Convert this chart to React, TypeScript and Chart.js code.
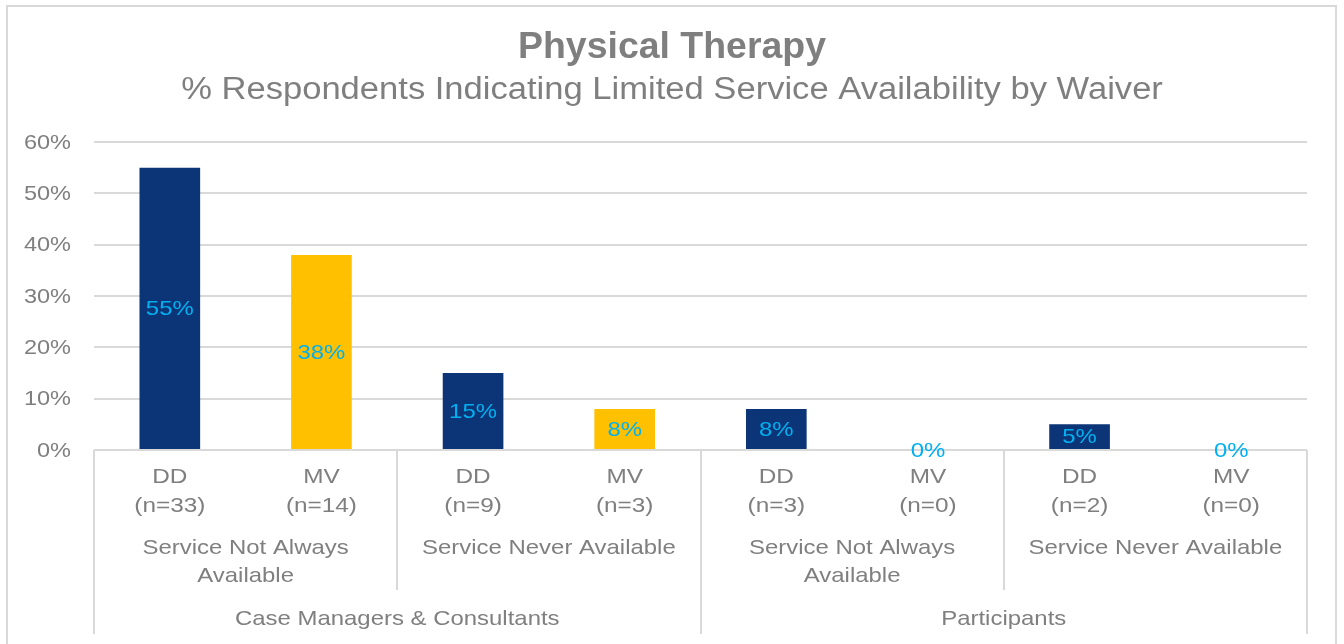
import React, { useEffect, useRef } from 'react';
import { Chart, registerables } from 'chart.js';

Chart.register(...registerables);

const waiverLabels = ['DD', 'MV', 'DD', 'MV', 'DD', 'MV', 'DD', 'MV'];
const sampleLabels = ['(n=33)', '(n=14)', '(n=9)', '(n=3)', '(n=3)', '(n=0)', '(n=2)', '(n=0)'];
const availabilityGroups = [
  ['Service Not Always', 'Available'],
  ['Service Never Available'],
  ['Service Not Always', 'Available'],
  ['Service Never Available'],
];
const respondentGroups = ['Case Managers & Consultants', 'Participants'];
const values = [55, 38, 15, 8, 8, 0, 5, 0];
const yTicks = [0, 10, 20, 30, 40, 50, 60];
const waiverColors: Record<string, string> = { DD: '#0B3577', MV: '#FFC000' };
const titleText = 'Physical Therapy';
const subtitleText = '% Respondents Indicating Limited Service Availability by Waiver';

const FONT = "'Liberation Sans', Arial, sans-serif";
const GREY = '#7F7F7F';
const LINE = '#D9D9D9';

function drawText(ctx: any, text: string, x: number, y: number, font: string, sx: number, align: string, color: string) {
  ctx.save();
  ctx.font = font;
  ctx.fillStyle = color;
  ctx.textAlign = align;
  ctx.textBaseline = 'middle';
  ctx.translate(x, y);
  ctx.scale(sx, 1);
  ctx.fillText(text, 0, 0);
  ctx.restore();
}

const titlePlugin = {
  id: 'titles',
  afterDraw(chart: any) {
    const ctx = chart.ctx;
    const cx = chart.width / 2;
    drawText(ctx, titleText, cx, 48, `bold 36px ${FONT}`, 1.04, 'center', GREY);
    drawText(ctx, subtitleText, cx, 90, `31px ${FONT}`, 1.115, 'center', GREY);
  },
};

const axisPlugin = {
  id: 'multiAxis',
  afterDraw(chart: any) {
    const ctx = chart.ctx;
    const x = chart.scales.x;
    const y = chart.scales.y;
    const area = chart.chartArea;
    const n = waiverLabels.length;
    const catW = (area.right - area.left) / n;
    const base = area.bottom;
    ctx.save();
    ctx.strokeStyle = LINE;
    ctx.lineWidth = 2;
    for (let k = 0; k <= n; k += 2) {
      const px = Math.round(area.left + k * catW);
      const long = k % 4 === 0;
      ctx.beginPath();
      ctx.moveTo(px, base);
      ctx.lineTo(px, long ? base + 184 : base + 140);
      ctx.stroke();
    }
    ctx.restore();
    const f = `21px ${FONT}`;
    yTicks.forEach((v) => {
      drawText(ctx, `${v}%`, 71, y.getPixelForValue(v) + 1, f, 1.12, 'right', GREY);
    });
    for (let i = 0; i < n; i++) {
      const px = x.getPixelForValue(i);
      drawText(ctx, waiverLabels[i], px, base + 27, f, 1.16, 'center', GREY);
      drawText(ctx, sampleLabels[i], px, base + 56, f, 1.16, 'center', GREY);
    }
    availabilityGroups.forEach((lines, g) => {
      const px = area.left + (2 * g + 1) * catW;
      lines.forEach((t, j) => drawText(ctx, t, px, base + 98 + j * 28, f, 1.14, 'center', GREY));
    });
    respondentGroups.forEach((t, g) => {
      const px = area.left + (4 * g + 2) * catW;
      drawText(ctx, t, px, base + 169, f, 1.14, 'center', GREY);
    });
  },
  afterDatasetsDraw(chart: any) {
    const ctx = chart.ctx;
    const meta = chart.getDatasetMeta(0);
    meta.data.forEach((bar: any, i: number) => {
      const cy = (bar.y + bar.base) / 2 + 1;
      drawText(ctx, `${values[i]}%`, bar.x, cy, `21px ${FONT}`, 1.14, 'center', '#00B0F0');
    });
  },
};

export default function App() {
  const ref = useRef<HTMLCanvasElement | null>(null);
  useEffect(() => {
    document.body.style.margin = '0';
    if (!ref.current) return;
    const chart = new Chart(ref.current, {
      type: 'bar',
      data: {
        labels: waiverLabels.map((w, i) => `${w} ${sampleLabels[i]}`),
        datasets: [
          {
            data: values,
            backgroundColor: waiverLabels.map((w) => waiverColors[w]),
            borderWidth: 0,
            barPercentage: 0.4,
            categoryPercentage: 1,
          },
        ],
      },
      options: {
        responsive: true,
        maintainAspectRatio: false,
        animation: false,
        layout: { padding: { top: 142, left: 0, right: 37, bottom: 0 } },
        plugins: { legend: { display: false }, tooltip: { enabled: false }, title: { display: false } },
        scales: {
          x: {
            ticks: { display: false },
            grid: { display: false },
            border: { display: false },
            afterFit: (s: any) => {
              s.height = 194;
            },
          },
          y: {
            min: 0,
            max: 60,
            ticks: { stepSize: 10, display: false },
            grid: { color: LINE, lineWidth: 2, drawTicks: false },
            border: { display: false },
            afterFit: (s: any) => {
              s.width = 94;
            },
          },
        },
      },
      plugins: [titlePlugin, axisPlugin],
    });
    return () => chart.destroy();
  }, []);
  return (
    <div style={{ position: 'fixed', left: 0, top: 0, width: 1344, height: 644, background: '#fff', overflow: 'hidden' }}>
      <div
        style={{
          position: 'absolute',
          left: 6,
          top: 5,
          width: 1331,
          height: 700,
          border: `2px solid ${LINE}`,
          boxSizing: 'border-box',
        }}
      />
      <div style={{ position: 'absolute', left: 0, top: 0, width: 1344, height: 644 }}>
        <canvas ref={ref} />
      </div>
    </div>
  );
}
